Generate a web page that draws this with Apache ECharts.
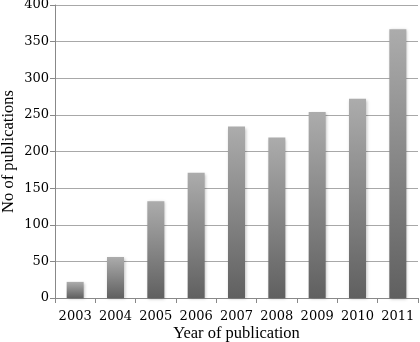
<!DOCTYPE html>
<html>
<head>
<meta charset="utf-8">
<script src="https://cdn.jsdelivr.net/npm/echarts@6/dist/echarts.min.js"></script>
<style>
  html, body { margin: 0; padding: 0; background: #fff; }
  #chart { width: 420px; height: 342px; }
</style>
</head>
<body>
<div id="chart"></div>
<script>
var years = ["2003", "2004", "2005", "2006", "2007", "2008", "2009", "2010", "2011"];
var publications = [22, 56, 132, 171, 234, 219, 254, 272, 367];
var yTicks = [0, 50, 100, 150, 200, 250, 300, 350, 400];

var myChart = echarts.init(document.getElementById("chart"));
var titleFont = "Liberation Serif";
var tickFont = "DejaVu Serif";

myChart.setOption({
  animation: false,
  grid: { left: 55, right: 2, top: 5, bottom: 44, outerBoundsMode: "none", containLabel: false },
  xAxis: {
    type: "category",
    data: years,
    name: "Year of publication",
    nameLocation: "middle",
    nameMoveOverlap: false,
    nameGap: 27,
    nameTextStyle: { fontFamily: titleFont, fontSize: 16.5, color: "#000" },
    axisLine: { lineStyle: { color: "#888" } },
    axisTick: { show: true, length: 5, lineStyle: { color: "#888" } },
    axisLabel: { interval: 0, hideOverlap: false, fontFamily: tickFont, fontSize: 13, color: "#000", margin: 12 }
  },
  yAxis: {
    type: "value",
    min: yTicks[0],
    max: yTicks[yTicks.length - 1],
    interval: 50,
    name: "No of publications",
    nameLocation: "middle",
    nameMoveOverlap: false,
    nameGap: 38,
    nameTextStyle: { fontFamily: titleFont, fontSize: 16.5, color: "#000" },
    axisLine: { show: true, lineStyle: { color: "#888" } },
    axisTick: { show: true, length: 5, lineStyle: { color: "#888" } },
    axisLabel: { fontFamily: tickFont, fontSize: 13, color: "#000", margin: 6 },
    splitLine: { lineStyle: { color: "#a8a8a8", width: 1 } }
  },
  series: [
    {
      type: "bar",
      data: publications,
      barWidth: 17,
      itemStyle: {
        color: new echarts.graphic.LinearGradient(0, 0, 0, 1, [
          { offset: 0, color: "#acacac" },
          { offset: 1, color: "#606060" }
        ]),
        shadowColor: "rgba(0,0,0,0.25)",
        shadowBlur: 3,
        shadowOffsetX: 1,
        shadowOffsetY: 1
      }
    }
  ]
});
</script>
</body>
</html>
